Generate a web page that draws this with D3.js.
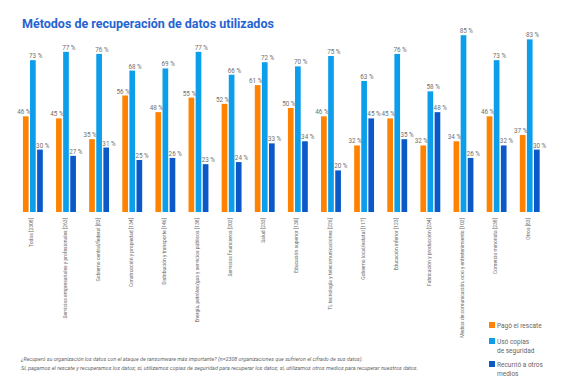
<!DOCTYPE html>
<html>
<head>
<meta charset="utf-8">
<script src="https://cdn.jsdelivr.net/npm/d3@7"></script>
<style>
  body { margin: 0; background: #fff; }
  svg { display: block; font-family: Roboto, "Liberation Sans", sans-serif; }
</style>
</head>
<body>
<div id="graph"></div>
<script>
// sectores (n entre corchetes)
var sectores = [
  "Todos [2308]",
  "Servicios empresariales y profesionales [263]",
  "Gobierno central/federal [83]",
  "Construcción y propiedad [134]",
  "Distribución y transporte [146]",
  "Energía, petróleo/gas y servicios públicos [138]",
  "Servicios financieros [202]",
  "Salud [233]",
  "Educación superior [130]",
  "TI, tecnología y telecomunicaciones [226]",
  "Gobierno local/estatal [117]",
  "Educación inferior [123]",
  "Fabricación y producción [234]",
  "Medios de comunicación, ocio y entretenimiento [102]",
  "Comercio minorista [238]",
  "Otros [83]"
];

// % por método
var pagoRescate   = [46, 45, 35, 56, 48, 55, 52, 61, 50, 46, 32, 45, 32, 34, 46, 37];
var copiasSeg     = [73, 77, 76, 68, 69, 77, 66, 72, 70, 75, 63, 76, 58, 85, 73, 83];
var otrosMedios   = [30, 27, 31, 25, 26, 23, 24, 33, 34, 20, 45, 35, 48, 26, 32, 30];

var series = ["Pagó el rescate", "Usó copias de seguridad", "Recurrió a otros medios"];
var colores = ["#ff8200", "#0c9eea", "#0b59c8"];
var valores = [pagoRescate, copiasSeg, otrosMedios];

var largeur = 568, hauteur = 388;

var svg = d3.select("#graph").append("svg")
    .attr("width", largeur)
    .attr("height", hauteur);

// titre
svg.append("text")
    .attr("x", 22)
    .attr("y", 28)
    .style("font-size", "12.5px")
    .style("font-weight", "bold")
    .style("fill", "#2563d1")
    .text("Métodos de recuperación de datos utilizados");

var x0 = d3.scaleBand()
    .domain(sectores)
    .range([16.3, 546.3])
    .paddingInner(0.4)
    .paddingOuter(0.2);

var x1 = d3.scaleBand()
    .domain(series)
    .range([0, x0.bandwidth()])
    .paddingInner(0.2);

var y = d3.scaleLinear()
    .domain([0, 100])
    .range([212, 4]);

var donnees = [];
sectores.forEach(function(s, i) {
  series.forEach(function(m, j) {
    donnees.push({ sector: s, serie: m, idx: j, v: valores[j][i] });
  });
});

var g = svg.append("g");

g.selectAll(".bar")
  .data(donnees)
  .enter()
  .append("rect")
  .attr("class", "bar")
  .attr("x", function(d) { return x0(d.sector) + x1(d.serie); })
  .attr("width", x1.bandwidth())
  .attr("y", function(d) { return y(d.v); })
  .attr("height", function(d) { return y(0) - y(d.v); })
  .attr("fill", function(d) { return colores[d.idx]; });

// étiquettes de valeur
g.selectAll(".lab")
  .data(donnees)
  .enter()
  .append("text")
  .attr("class", "lab")
  .attr("x", function(d) {
    var bx = x0(d.sector) + x1(d.serie);
    if (d.idx == 0) return bx + x1.bandwidth() / 2 - 2;
    return bx - 1;
  })
  .attr("y", function(d) { return y(d.v) - 2; })
  .style("text-anchor", function(d) { return d.idx == 0 ? "middle" : "start"; })
  .style("font-size", "6.3px")
  .style("fill", "#707070")
  .text(function(d) { return d.v + " %"; });

// axe X (sans ligne)
var axeX = d3.axisBottom(x0).tickSize(0).tickPadding(0);
var ax = svg.append("g")
    .attr("transform", "translate(0,218)")
    .call(axeX);
ax.select(".domain").remove();
ax.selectAll("text")
    .attr("transform", "rotate(-90)")
    .attr("x", 0)
    .attr("y", -1)
    .attr("dy", "0.32em")
    .style("text-anchor", "end")
    .style("font-size", "5px")
    .style("font-family", "Roboto, sans-serif")
    .style("fill", "#666");

// légende
var legende = [
  ["Pagó el rescate"],
  ["Usó copias", "de seguridad"],
  ["Recurrió a otros", "medios"]
];
var legY = [322, 338, 361];
legende.forEach(function(lignes, i) {
  svg.append("rect")
    .attr("x", 489)
    .attr("y", legY[i])
    .attr("width", 6)
    .attr("height", 6)
    .attr("fill", colores[i]);
  lignes.forEach(function(l, k) {
    svg.append("text")
      .attr("x", 497)
      .attr("y", legY[i] + 5.5 + k * 9)
      .style("font-size", "6.5px")
      .style("fill", "#666")
      .text(l);
  });
});

// notes
svg.append("text")
    .attr("x", 21)
    .attr("y", 361)
    .attr("textLength", 342)
    .attr("lengthAdjust", "spacingAndGlyphs")
    .style("font-size", "5px")
    .style("font-style", "italic")
    .style("fill", "#666")
    .text("¿Recuperó su organización los datos con el ataque de ransomware más importante? (n=2308 organizaciones que sufrieron el cifrado de sus datos).");

svg.append("text")
    .attr("x", 21)
    .attr("y", 370)
    .attr("textLength", 397)
    .attr("lengthAdjust", "spacingAndGlyphs")
    .style("font-size", "5px")
    .style("font-style", "italic")
    .style("fill", "#666")
    .text("Sí, pagamos el rescate y recuperamos los datos; sí, utilizamos copias de seguridad para recuperar los datos; sí, utilizamos otros medios para recuperar nuestros datos.");
</script>
</body>
</html>
